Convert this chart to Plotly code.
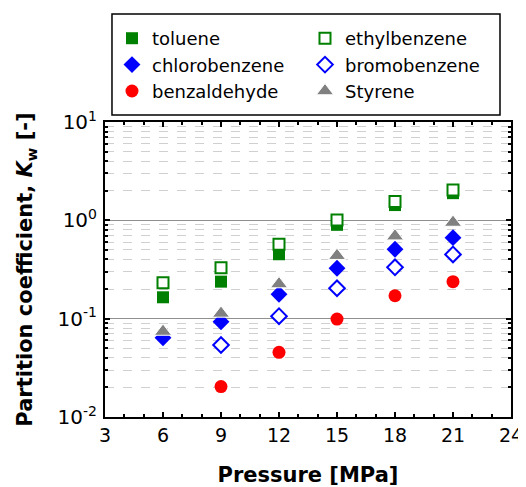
import plotly.graph_objects as go

pressure = [6, 9, 12, 15, 18, 21]
toluene = [0.165, 0.238, 0.452, 0.90, 1.43, 1.89]
ethylbenzene = [0.232, 0.33, 0.57, 1.01, 1.55, 2.04]
chlorobenzene = [0.064, 0.093, 0.177, 0.326, 0.508, 0.667]
bromobenzene_p = [9, 12, 15, 18, 21]
bromobenzene = [0.054, 0.106, 0.204, 0.333, 0.45]
benzaldehyde_p = [9, 12, 15, 18, 21]
benzaldehyde = [0.0204, 0.0455, 0.099, 0.171, 0.238]
styrene = [0.074, 0.113, 0.225, 0.437, 0.69, 0.95]

y_tickvals = [0.01, 0.1, 1, 10]
y_ticktext = ["10<sup>-2</sup>", "10<sup>-1</sup>", "10<sup>0</sup>", "10<sup>1</sup>"]
x_tickvals = [3, 6, 9, 12, 15, 18, 21, 24]

GREEN = "#008000"
BLUE = "#0000ff"
RED = "#ff0000"
GRAY = "#808080"

fig = go.Figure()
fig.add_trace(go.Scatter(x=pressure, y=toluene, mode="markers", name="toluene", legend="legend",
                         marker=dict(symbol="square", size=12, color=GREEN)))
fig.add_trace(go.Scatter(x=pressure, y=ethylbenzene, mode="markers", name="ethylbenzene", legend="legend2",
                         marker=dict(symbol="square", size=11, color="white",
                                     line=dict(color=GREEN, width=2))))
fig.add_trace(go.Scatter(x=pressure, y=chlorobenzene, mode="markers", name="chlorobenzene", legend="legend",
                         marker=dict(symbol="diamond", size=13, color=BLUE)))
fig.add_trace(go.Scatter(x=bromobenzene_p, y=bromobenzene, mode="markers", name="bromobenzene", legend="legend2",
                         marker=dict(symbol="diamond", size=12, color="white",
                                     line=dict(color=BLUE, width=2))))
fig.add_trace(go.Scatter(x=benzaldehyde_p, y=benzaldehyde, mode="markers", name="benzaldehyde", legend="legend",
                         marker=dict(symbol="circle", size=13, color=RED)))
fig.add_trace(go.Scatter(x=pressure, y=styrene, mode="markers", name="Styrene", legend="legend2",
                         marker=dict(symbol="triangle-up", size=15, color=GRAY,
                                     line=dict(color="white", width=1))))

legend_common = dict(orientation="v", xanchor="left", yanchor="top",
                     bgcolor="rgba(0,0,0,0)", borderwidth=0,
                     font=dict(size=18, color="black"), itemsizing="trace",
                     tracegroupgap=0, traceorder="normal")

fig.update_layout(
    width=526, height=487,
    margin=dict(l=97, r=23, t=114, b=78, autoexpand=False),
    paper_bgcolor="white", plot_bgcolor="white",
    font=dict(family="DejaVu Sans", size=18, color="black"),
    legend=dict(x=0.0172, y=1.3457, **legend_common),
    legend2=dict(x=0.4926, y=1.3457, **legend_common),
    showlegend=True,
    shapes=[dict(type="rect", xref="paper", yref="paper",
                 x0=0.0172, x1=0.9729, y0=1.0237, y1=1.366,
                 line=dict(color="black", width=1.5), fillcolor="rgba(0,0,0,0)", layer="above")],
)

fig.update_xaxes(
    range=[3, 24], tickmode="array", tickvals=x_tickvals,
    ticks="inside", ticklen=5, tickwidth=1.5, tickcolor="black",
    minor=dict(dtick=1, tick0=3, ticks="inside", ticklen=3, tickcolor="black", showgrid=False),
    showgrid=False, zeroline=False, automargin=False,
    showline=True, linecolor="black", linewidth=2, mirror="ticks",
    title=dict(text="<b>Pressure [MPa]</b>", font=dict(size=21), standoff=23),
    tickfont=dict(size=19),
)
fig.update_yaxes(
    type="log", range=[-2, 1], tickmode="array", tickvals=y_tickvals, ticktext=y_ticktext,
    ticks="inside", ticklen=5, tickwidth=1.5, tickcolor="black",
    showgrid=True, gridcolor="#909090", gridwidth=1,
    minor=dict(dtick="D1", ticks="inside", ticklen=3, tickcolor="black",
               showgrid=True, gridcolor="#d0d0d0", griddash="dash", gridwidth=1),
    zeroline=False, automargin=False,
    showline=True, linecolor="black", linewidth=2, mirror="ticks",
    ticklabelstandoff=2,
    title=dict(text="<b>Partition coefficient, <i>K</i><sub>w</sub> [-]</b>", font=dict(size=21), standoff=19),
    tickfont=dict(size=20),
)

fig.write_html("out.html")
